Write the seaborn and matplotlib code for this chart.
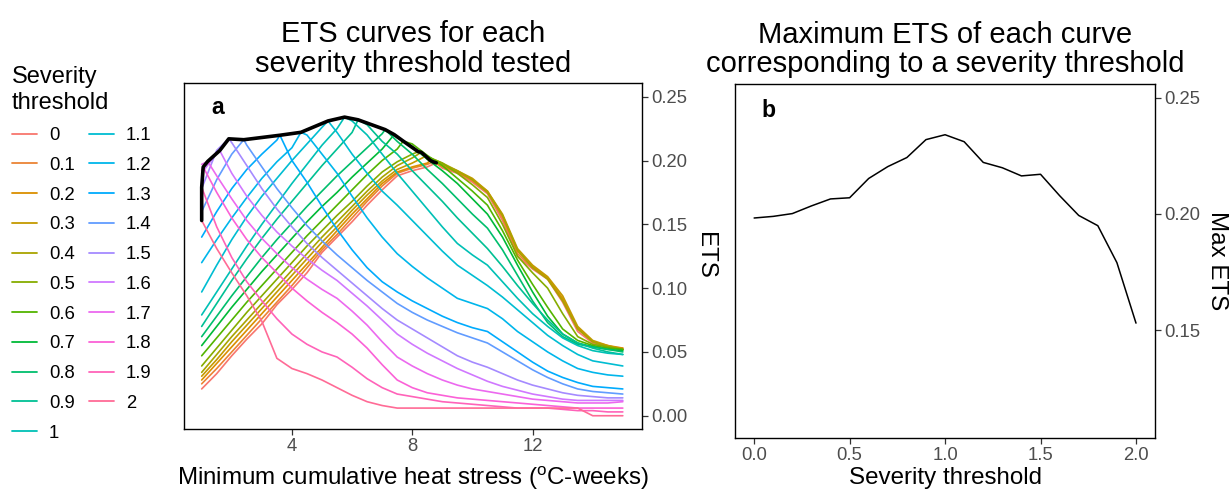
import numpy as np
import pandas as pd
import matplotlib
matplotlib.use("Agg")
import matplotlib.pyplot as plt
import seaborn as sns

# severity thresholds tested (one ETS curve each)
thresholds = [0.0, 0.1, 0.2, 0.3, 0.4, 0.5, 0.6, 0.7, 0.8, 0.9, 1.0,
              1.1, 1.2, 1.3, 1.4, 1.5, 1.6, 1.7, 1.8, 1.9, 2.0]

# minimum cumulative heat stress (oC-weeks) where each curve was read
heat_stress = [1.0, 1.5, 2.0, 2.5, 3.0, 3.5, 4.0, 4.5, 5.0, 5.5, 6.0, 6.5, 7.0, 7.5,
               8.0, 8.5, 9.0, 9.5, 10.0, 10.5, 11.0, 11.5, 12.0, 12.5, 13.0, 13.5,
               14.0, 14.5, 15.0]

# ETS curves, one list per severity threshold
ets_00 = [0.021, 0.033, 0.047, 0.060, 0.072, 0.087, 0.099, 0.112, 0.128, 0.140, 0.152, 0.165, 0.177, 0.188,
          0.192, 0.195, 0.194, 0.190, 0.183, 0.174, 0.153, 0.125, 0.115, 0.107, 0.089, 0.066, 0.057, 0.054, 0.053]
ets_01 = [0.025, 0.037, 0.050, 0.063, 0.076, 0.089, 0.102, 0.116, 0.130, 0.142, 0.155, 0.168, 0.180, 0.190,
          0.194, 0.197, 0.195, 0.191, 0.184, 0.175, 0.155, 0.127, 0.116, 0.108, 0.091, 0.068, 0.058, 0.054, 0.052]
ets_02 = [0.028, 0.041, 0.054, 0.067, 0.080, 0.093, 0.106, 0.119, 0.132, 0.145, 0.158, 0.170, 0.182, 0.191,
          0.195, 0.198, 0.196, 0.191, 0.185, 0.176, 0.157, 0.129, 0.117, 0.108, 0.092, 0.069, 0.058, 0.055, 0.053]
ets_03 = [0.031, 0.044, 0.058, 0.071, 0.084, 0.097, 0.110, 0.123, 0.136, 0.148, 0.161, 0.173, 0.184, 0.193,
          0.198, 0.201, 0.197, 0.192, 0.186, 0.176, 0.158, 0.131, 0.118, 0.109, 0.094, 0.070, 0.059, 0.055, 0.052]
ets_04 = [0.034, 0.048, 0.062, 0.075, 0.088, 0.101, 0.114, 0.127, 0.140, 0.152, 0.164, 0.176, 0.187, 0.196,
          0.202, 0.203, 0.198, 0.192, 0.185, 0.175, 0.157, 0.130, 0.116, 0.107, 0.090, 0.068, 0.058, 0.054, 0.052]
ets_05 = [0.039, 0.053, 0.067, 0.081, 0.094, 0.107, 0.120, 0.133, 0.145, 0.157, 0.168, 0.180, 0.191, 0.199,
          0.205, 0.203, 0.198, 0.190, 0.181, 0.171, 0.150, 0.125, 0.112, 0.100, 0.080, 0.062, 0.056, 0.054, 0.052]
ets_06 = [0.047, 0.061, 0.075, 0.089, 0.102, 0.115, 0.128, 0.141, 0.153, 0.165, 0.177, 0.189, 0.200, 0.209,
          0.213, 0.204, 0.196, 0.186, 0.176, 0.165, 0.145, 0.122, 0.103, 0.085, 0.068, 0.059, 0.055, 0.053, 0.052]
ets_07 = [0.055, 0.070, 0.085, 0.099, 0.113, 0.126, 0.139, 0.152, 0.164, 0.175, 0.187, 0.198, 0.209, 0.218,
          0.211, 0.201, 0.192, 0.182, 0.170, 0.158, 0.140, 0.118, 0.097, 0.078, 0.064, 0.057, 0.054, 0.052, 0.051]
ets_08 = [0.062, 0.078, 0.094, 0.109, 0.124, 0.138, 0.151, 0.164, 0.176, 0.188, 0.199, 0.210, 0.221, 0.215,
          0.205, 0.193, 0.182, 0.170, 0.158, 0.147, 0.130, 0.110, 0.090, 0.073, 0.062, 0.056, 0.054, 0.052, 0.050]
ets_09 = [0.070, 0.088, 0.106, 0.123, 0.139, 0.154, 0.168, 0.182, 0.196, 0.209, 0.222, 0.228, 0.215, 0.205,
          0.192, 0.180, 0.168, 0.155, 0.143, 0.131, 0.117, 0.102, 0.088, 0.075, 0.064, 0.057, 0.053, 0.050, 0.048]
ets_10 = [0.079, 0.097, 0.115, 0.133, 0.150, 0.166, 0.182, 0.197, 0.212, 0.225, 0.231, 0.220, 0.205, 0.190,
          0.176, 0.162, 0.148, 0.135, 0.126, 0.118, 0.105, 0.092, 0.080, 0.070, 0.061, 0.055, 0.051, 0.049, 0.048]
ets_11 = [0.097, 0.118, 0.138, 0.156, 0.172, 0.186, 0.200, 0.213, 0.226, 0.222, 0.205, 0.190, 0.176, 0.165,
          0.153, 0.141, 0.129, 0.118, 0.110, 0.102, 0.093, 0.083, 0.073, 0.063, 0.055, 0.048, 0.043, 0.041, 0.039]
ets_12 = [0.120, 0.138, 0.155, 0.171, 0.186, 0.199, 0.210, 0.220, 0.205, 0.190, 0.172, 0.155, 0.140, 0.127,
          0.117, 0.108, 0.100, 0.092, 0.088, 0.084, 0.076, 0.066, 0.058, 0.050, 0.043, 0.037, 0.034, 0.032, 0.031]
ets_13 = [0.140, 0.160, 0.178, 0.193, 0.205, 0.216, 0.200, 0.183, 0.164, 0.146, 0.130, 0.116, 0.105, 0.097,
          0.090, 0.084, 0.078, 0.073, 0.069, 0.066, 0.058, 0.050, 0.042, 0.035, 0.030, 0.026, 0.023, 0.022, 0.021]
ets_14 = [0.160, 0.185, 0.205, 0.212, 0.195, 0.178, 0.163, 0.149, 0.137, 0.126, 0.116, 0.106, 0.097, 0.088,
          0.081, 0.075, 0.070, 0.065, 0.061, 0.057, 0.050, 0.043, 0.036, 0.030, 0.025, 0.021, 0.019, 0.018, 0.017]
ets_15 = [0.178, 0.208, 0.214, 0.196, 0.178, 0.162, 0.148, 0.135, 0.124, 0.114, 0.104, 0.094, 0.084, 0.075,
          0.068, 0.061, 0.054, 0.047, 0.042, 0.038, 0.033, 0.028, 0.024, 0.021, 0.018, 0.016, 0.015, 0.014, 0.014]
ets_16 = [0.190, 0.206, 0.190, 0.172, 0.157, 0.144, 0.133, 0.123, 0.114, 0.106, 0.096, 0.086, 0.075, 0.064,
          0.056, 0.049, 0.043, 0.037, 0.032, 0.027, 0.023, 0.020, 0.017, 0.015, 0.013, 0.012, 0.012, 0.012, 0.012]
ets_17 = [0.197, 0.188, 0.170, 0.153, 0.139, 0.127, 0.116, 0.107, 0.099, 0.092, 0.082, 0.071, 0.058, 0.046,
          0.039, 0.033, 0.028, 0.024, 0.021, 0.019, 0.017, 0.015, 0.013, 0.012, 0.011, 0.010, 0.010, 0.010, 0.011]
ets_18 = [0.192, 0.175, 0.155, 0.138, 0.124, 0.112, 0.100, 0.090, 0.081, 0.073, 0.064, 0.053, 0.040, 0.028,
          0.022, 0.018, 0.016, 0.014, 0.013, 0.012, 0.011, 0.010, 0.009, 0.008, 0.007, 0.006, 0.006, 0.006, 0.006]
ets_19 = [0.178, 0.148, 0.124, 0.105, 0.090, 0.076, 0.064, 0.056, 0.050, 0.046, 0.038, 0.029, 0.022, 0.017,
          0.015, 0.013, 0.011, 0.010, 0.009, 0.008, 0.007, 0.006, 0.006, 0.006, 0.005, 0.004, 0.004, 0.003, 0.003]
ets_20 = [0.153, 0.131, 0.112, 0.094, 0.074, 0.045, 0.037, 0.033, 0.028, 0.022, 0.016, 0.011, 0.008, 0.006,
          0.006, 0.006, 0.006, 0.006, 0.006, 0.006, 0.006, 0.006, 0.006, 0.006, 0.006, 0.006, 0.000, 0.000, 0.000]

# position of the maximum of each curve (black line in a) and max ETS (panel b)
peak_x = [8.8, 8.7, 8.6, 8.45, 8.3, 8.2, 7.7, 7.4, 7.1, 6.2, 5.75,
          5.2, 4.3, 3.6, 2.4, 1.9, 1.6, 1.2, 1.05, 1.0, 1.0]
max_ets = [0.1982, 0.1989, 0.2001, 0.2034, 0.2064, 0.2069, 0.2152, 0.2203, 0.2242, 0.2319, 0.2340,
           0.2310, 0.2221, 0.2198, 0.2163, 0.2170, 0.2078, 0.1993, 0.1949, 0.1790, 0.1530]

curves = [ets_00, ets_01, ets_02, ets_03, ets_04, ets_05, ets_06, ets_07, ets_08, ets_09, ets_10,
          ets_11, ets_12, ets_13, ets_14, ets_15, ets_16, ets_17, ets_18, ets_19, ets_20]
labels = [f"{t:g}" for t in thresholds]


def hue_pal(n, h=(15, 375), c=100, l=65):
    """ggplot2 default discrete colours (HCL -> sRGB)"""
    hues = np.linspace(h[0], h[1], n + 1)[:-1] % 360
    xn, yn, zn = 95.047, 100.0, 108.883
    un = 4 * xn / (xn + 15 * yn + 3 * zn)
    vn = 9 * yn / (xn + 15 * yn + 3 * zn)
    out = []
    for hh in hues:
        u = c * np.cos(np.radians(hh))
        v = c * np.sin(np.radians(hh))
        Y = yn * ((l + 16) / 116) ** 3
        up = u / (13 * l) + un
        vp = v / (13 * l) + vn
        X = 9 * Y * up / (4 * vp)
        Z = -X / 3 - 5 * Y + 3 * Y / vp
        X, Y, Z = X / 100, Y / 100, Z / 100
        rgb = np.array([3.240479 * X - 1.537150 * Y - 0.498535 * Z,
                        -0.969256 * X + 1.875992 * Y + 0.041556 * Z,
                        0.055648 * X - 0.204043 * Y + 1.057311 * Z])
        rgb = np.where(rgb <= 0.0031308, 12.92 * rgb, 1.055 * np.abs(rgb) ** (1 / 2.4) - 0.055)
        out.append(tuple(np.clip(rgb, 0, 1)))
    return out


# long table: every read point plus the curve maximum
frames = []
for lab, vals, px, pv in zip(labels, curves, peak_x, max_ets):
    d = pd.DataFrame({"x": heat_stress + [px], "ets": vals + [pv]})
    d = d.drop_duplicates("x", keep="last").sort_values("x")
    d["threshold"] = lab
    frames.append(d)
df = pd.concat(frames, ignore_index=True)

sns.set_style("white")
plt.rcParams["font.family"] = ["Liberation Sans", "DejaVu Sans"]
plt.rcParams["mathtext.fontset"] = "custom"
plt.rcParams["mathtext.rm"] = "Liberation Sans"
plt.rcParams["mathtext.it"] = "Liberation Sans:italic"
plt.rcParams["text.color"] = "black"
plt.rcParams["axes.labelcolor"] = "black"

colors = hue_pal(len(labels))
tick_col = "#4D4D4D"

fig = plt.figure(figsize=(12.3, 4.93), dpi=100)
ax1 = fig.add_axes([0.1493, 0.1298, 0.3727, 0.7025])
ax2 = fig.add_axes([0.5976, 0.1110, 0.3415, 0.7195])

# panel a
sns.lineplot(data=df, x="x", y="ets", hue="threshold", hue_order=labels, palette=colors,
             estimator=None, sort=True, lw=1.2, ax=ax1)
sns.lineplot(x=peak_x, y=max_ets, sort=False, estimator=None, color="black", lw=2.6, ax=ax1)
handles, leg_labels = ax1.get_legend_handles_labels()
ax1.get_legend().remove()

ax1.set_xlim(0.40, 15.64)
ax1.set_ylim(-0.0104, 0.261)
ax1.set_xticks([4, 8, 12])
ax1.set_yticks([0.00, 0.05, 0.10, 0.15, 0.20, 0.25])
ax1.set_yticklabels(["0.00", "0.05", "0.10", "0.15", "0.20", "0.25"])
ax1.text(0.075, 0.927, "a", transform=ax1.transAxes, fontsize=16.6, fontweight="bold",
         ha="center", va="center")

# panel b
sns.lineplot(x=thresholds, y=max_ets, color="black", lw=1.1, ax=ax2)
ax2.set_xlim(-0.1, 2.1)
ax2.set_ylim(0.1035, 0.256)
ax2.set_xticks([0.0, 0.5, 1.0, 1.5, 2.0])
ax2.set_xticklabels(["0.0", "0.5", "1.0", "1.5", "2.0"])
ax2.set_yticks([0.15, 0.20, 0.25])
ax2.set_yticklabels(["0.15", "0.20", "0.25"])
ax2.text(0.079, 0.925, "b", transform=ax2.transAxes, fontsize=16.6, fontweight="bold",
         ha="center", va="center")

for ax, xlab, ylab, xl, yl, title in [
        (ax1, r"Minimum cumulative heat stress ($^{\mathrm{o}}$C-weeks)", "ETS", -0.1415, 1.1375,
         "ETS curves for each\nseverity threshold tested"),
        (ax2, "Severity threshold", "Max ETS", -0.1125, 1.1476,
         "Maximum ETS of each curve\ncorresponding to a severity threshold")]:
    ax.yaxis.tick_right()
    ax.yaxis.set_label_position("right")
    ax.set_xlabel(xlab, fontsize=17.4, va="center")
    ax.set_ylabel(ylab, fontsize=17.4, rotation=-90, va="center", ha="center")
    ax.xaxis.set_label_coords(0.5, xl)
    ax.yaxis.set_label_coords(yl, 0.5)
    ax.set_title(title, fontsize=21, linespacing=1.05, pad=8, color="black")
    ax.tick_params(axis="both", which="both", length=4, width=0.9, color="#333333",
                   labelcolor=tick_col, labelsize=13.3, pad=2.5,
                   bottom=True, right=True, left=False, top=False)
    for sp in ax.spines.values():
        sp.set_visible(True)
        sp.set_color("black")
        sp.set_linewidth(1.0)

leg = fig.legend(handles, leg_labels, ncol=2, loc="upper left", bbox_to_anchor=(0.0098, 0.866),
                 frameon=False, title="Severity\nthreshold", alignment="left", fontsize=13.3,
                 title_fontsize=17, labelspacing=0.69, handlelength=1.35, handletextpad=0.65,
                 columnspacing=0.75, borderpad=0, borderaxespad=0)
leg.get_title().set_linespacing(1.25)
for h in leg.legend_handles:
    h.set_linewidth(1.3)

fig.savefig("out.png", dpi=100)
